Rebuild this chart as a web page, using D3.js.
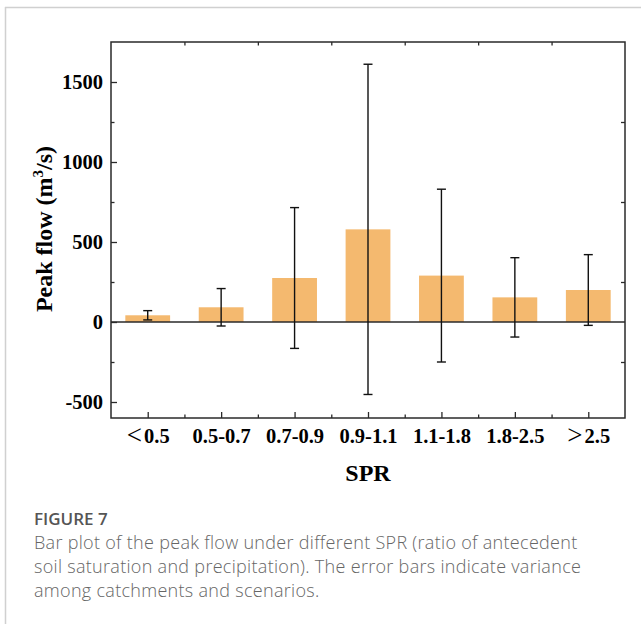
<!DOCTYPE html>
<html><head><meta charset="utf-8">
<script src="https://cdn.jsdelivr.net/npm/d3@7/dist/d3.min.js"></script>
<style>
html,body{margin:0;padding:0;background:#fff;}
svg{display:block;}
</style></head>
<body>
<script>
const categories = ["<0.5","0.5-0.7","0.7-0.9","0.9-1.1","1.1-1.8","1.8-2.5",">2.5"];
const peakFlow = [42, 92, 275, 579, 290, 154, 200];
const errorSD = [29, 117, 440, 1032, 540, 248, 221];
const yTicks = [-500, 0, 500, 1000, 1500];
const yMinorTicks = [-250, 250, 750, 1250];
const captionTitle = "FIGURE 7";
const captionLines = [
  "Bar plot of the peak flow under different SPR (ratio of antecedent",
  "soil saturation and precipitation). The error bars indicate variance",
  "among catchments and scenarios."
];

const W = 641, H = 624;
const svg = d3.select("body").append("svg").attr("width", W).attr("height", H);

// card border
svg.append("line").attr("x1",5).attr("x2",W).attr("y1",7.5).attr("y2",7.5).attr("stroke","#d0d0d0").attr("stroke-width",1.5);
svg.append("line").attr("x1",5.5).attr("x2",5.5).attr("y1",7).attr("y2",H).attr("stroke","#d0d0d0").attr("stroke-width",1.5);

const L = 111, R = 625, T = 42, B = 418;
const x = d3.scaleBand().domain(categories).range([L, R]).paddingInner(0).paddingOuter(0);
const y = d3.scaleLinear().domain([-600, 1750]).range([B, T]);
const step = x.step();
const barW = step * 0.61;
const cx = d => x(d) + step/2;

const font = "'Liberation Serif','Times New Roman',serif";
const axisColor = "#2a2a2a";

// bars
svg.append("g").selectAll("rect").data(categories).join("rect")
  .attr("x", (d)=>cx(d)-barW/2)
  .attr("width", barW)
  .attr("y", (d,i)=>Math.min(y(peakFlow[i]), y(0)))
  .attr("height", (d,i)=>Math.abs(y(0)-y(peakFlow[i])))
  .attr("fill", "#F4B96F");

// zero line
svg.append("line").attr("x1",L).attr("x2",R).attr("y1",y(0)).attr("y2",y(0)).attr("stroke",axisColor).attr("stroke-width",1.3);

// error bars
const eb = svg.append("g").attr("stroke","#111").attr("stroke-width",1.4);
categories.forEach((c,i)=>{
  const hi = y(peakFlow[i]+errorSD[i]), lo = y(peakFlow[i]-errorSD[i]);
  const xc = cx(c);
  eb.append("line").attr("x1",xc).attr("x2",xc).attr("y1",hi).attr("y2",lo);
  eb.append("line").attr("x1",xc-4.5).attr("x2",xc+4.5).attr("y1",hi).attr("y2",hi);
  eb.append("line").attr("x1",xc-4.5).attr("x2",xc+4.5).attr("y1",lo).attr("y2",lo);
});

// left axis
const leftAxis = d3.axisLeft(y).tickValues(yTicks).tickSize(-6).tickFormat(d=>String(d));
const gl = svg.append("g").attr("transform",`translate(${L},0)`).call(leftAxis);
gl.select(".domain").remove();
gl.selectAll(".tick line").attr("stroke",axisColor).attr("stroke-width",1.3);
gl.selectAll(".tick text").attr("font-family",font).attr("font-weight","bold").attr("font-size",20.5).attr("fill","#000").attr("x",-8);
const glm = svg.append("g").attr("transform",`translate(${L},0)`).call(d3.axisLeft(y).tickValues(yMinorTicks).tickSize(-3.5).tickFormat(""));
glm.select(".domain").remove();
glm.selectAll(".tick line").attr("stroke",axisColor).attr("stroke-width",1.3);

// right axis (minor only)
const grm = svg.append("g").attr("transform",`translate(${R},0)`).call(d3.axisRight(y).tickValues(yMinorTicks).tickSize(-4).tickFormat(""));
grm.select(".domain").remove();
grm.selectAll(".tick line").attr("stroke",axisColor).attr("stroke-width",1.3);

// bottom axis
const xp = d3.scalePoint().domain(categories).range([L+step/2, R-step/2]);
const gb = svg.append("g").attr("transform",`translate(0,${B})`).call(d3.axisBottom(xp).tickSize(-6).tickFormat(d=>d));
gb.select(".domain").remove();
gb.selectAll(".tick line").attr("stroke",axisColor).attr("stroke-width",1.3);
gb.selectAll(".tick text").each(function(d){
  const t = d3.select(this).text("").attr("font-family",font).attr("font-weight","bold")
    .attr("font-size",20.5).attr("fill","#000").attr("y",25).attr("dy",null);
  const m = d.match(/^([<>])(.*)$/);
  if (m) {
    t.append("tspan").attr("font-weight","normal").attr("font-size",27).attr("dy",1).text(m[1]);
    t.append("tspan").attr("dx",2).attr("dy",-1).text(m[2]);
  } else {
    t.text(d);
  }
});

// minor x ticks at boundaries
const boundaries = categories.slice(1);
const bScale = d3.scaleOrdinal().domain(boundaries).range(boundaries.map(d=>x(d)));
const gbm = svg.append("g").attr("transform",`translate(0,${B})`).call(d3.axisBottom(bScale).tickSize(-3.5).tickFormat(""));
gbm.select(".domain").remove();
gbm.selectAll(".tick line").attr("stroke",axisColor).attr("stroke-width",1.3);
const gtm = svg.append("g").attr("transform",`translate(0,${T})`).call(d3.axisTop(bScale).tickSize(-3.5).tickFormat(""));
gtm.select(".domain").remove();
gtm.selectAll(".tick line").attr("stroke",axisColor).attr("stroke-width",1.3);

// frame
svg.append("rect").attr("x",L).attr("y",T).attr("width",R-L).attr("height",B-T)
  .attr("fill","none").attr("stroke",axisColor).attr("stroke-width",1.5);

// axis titles
const yt = svg.append("text").attr("transform",`translate(52,${(T+B)/2 - 1}) rotate(-90)`)
  .attr("text-anchor","middle").attr("font-family",font).attr("font-weight","bold").attr("font-size",24).attr("fill","#000");
yt.append("tspan").text("Peak flow (m");
yt.append("tspan").attr("font-size",15).attr("dy",-9).text("3");
yt.append("tspan").attr("dy",9).text("/s)");

svg.append("text").attr("x",(L+R)/2).attr("y",481).attr("text-anchor","middle")
  .attr("font-family",font).attr("font-weight","bold").attr("font-size",24).attr("fill","#000").text("SPR");

// caption
svg.append("text").attr("x",34).attr("y",525).attr("font-family","'Open Sans',sans-serif")
  .attr("font-size",17).attr("font-weight",600).attr("fill","#555").text(captionTitle);
captionLines.forEach((t,i)=>{
  svg.append("text").attr("x",34).attr("y",549+i*24).attr("font-family","'Open Sans',sans-serif")
    .attr("font-size",18).attr("font-weight",300).attr("letter-spacing",0.3).attr("fill","#666").text(t);
});
</script>
</body></html>
